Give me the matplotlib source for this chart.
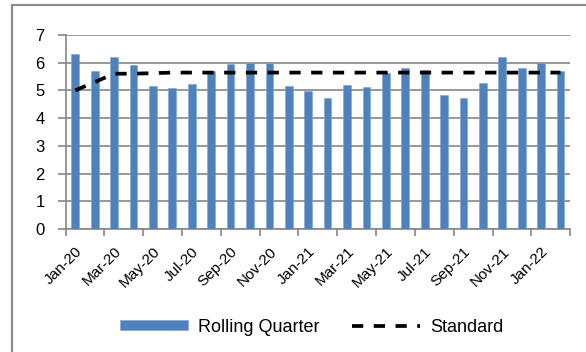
import numpy as np
import matplotlib.pyplot as plt
from matplotlib.patches import Rectangle

plt.rcParams['font.family'] = ['Liberation Sans', 'DejaVu Sans']

months = ['Jan-20', 'Feb-20', 'Mar-20', 'Apr-20', 'May-20', 'Jun-20', 'Jul-20',
          'Aug-20', 'Sep-20', 'Oct-20', 'Nov-20', 'Dec-20', 'Jan-21', 'Feb-21',
          'Mar-21', 'Apr-21', 'May-21', 'Jun-21', 'Jul-21', 'Aug-21', 'Sep-21',
          'Oct-21', 'Nov-21', 'Dec-21', 'Jan-22', 'Feb-22']
rolling_quarter = [6.31, 5.70, 6.20, 5.90, 5.17, 5.10, 5.22, 5.68, 5.96, 5.98,
                   6.00, 5.16, 4.96, 4.74, 5.21, 5.13, 5.61, 5.82, 5.72, 4.83,
                   4.71, 5.25, 6.20, 5.82, 5.99, 5.68]
standard = [5.00, 5.30, 5.60, 5.60, 5.62, 5.64, 5.64, 5.64, 5.64, 5.64, 5.64,
            5.64, 5.64, 5.64, 5.64, 5.64, 5.64, 5.64, 5.64, 5.64, 5.64, 5.64,
            5.64, 5.64, 5.64, 5.64]

fig = plt.figure(figsize=(5.86, 3.52), dpi=100)
ax = fig.add_axes([0.112, 0.349, 0.861, 0.552])

x = np.arange(len(months))
grey = '#868686'

bars = ax.bar(x, rolling_quarter, 0.4, color='#4F81BD', edgecolor='#7FA3D0',
              linewidth=0.4, label='Rolling Quarter', zorder=3)
line, = ax.plot(x, standard, color='black', linestyle=(0, (3.0, 2.8)),
                linewidth=2.7, label='Standard', zorder=4)

ax.set_xlim(-0.5, len(months) - 0.5)
ax.set_ylim(0, 7)
ax.set_yticks(range(0, 8))
ax.yaxis.grid(True, color=grey, linewidth=1.2, zorder=0)
ax.tick_params(axis='y', labelsize=12, length=6, color=grey, width=1.2, pad=9)

# tick marks sit between categories, labels on every second month
ax.set_xticks(np.arange(-0.5, len(months), 2))
ax.set_xticklabels([])
ax.set_xticks(x[::2], minor=True)
ax.set_xticklabels(months[::2], minor=True, rotation=45, ha='right',
                   rotation_mode='anchor', fontsize=11)
ax.tick_params(axis='x', which='major', length=5, color=grey, width=1.2)
ax.tick_params(axis='x', which='minor', length=0, pad=11)

for side in ['top', 'right']:
    ax.spines[side].set_visible(False)
for side in ['left', 'bottom']:
    ax.spines[side].set_color(grey)
    ax.spines[side].set_linewidth(1.2)

fig.legend([bars, line], ['Rolling Quarter', 'Standard'], loc='center',
           bbox_to_anchor=(0.532, 0.071), ncol=2, frameon=False, fontsize=13,
           handlelength=3.75, handleheight=0.45, handletextpad=0.55,
           columnspacing=1.8)

# chart area frame
fig.patches.append(Rectangle((12 / 586, -0.1), 1.1, 1.1 - 5 / 352,
                             transform=fig.transFigure, fill=False,
                             edgecolor='#8C8C8C', linewidth=1.6))

fig.savefig('out.png', dpi=100)
